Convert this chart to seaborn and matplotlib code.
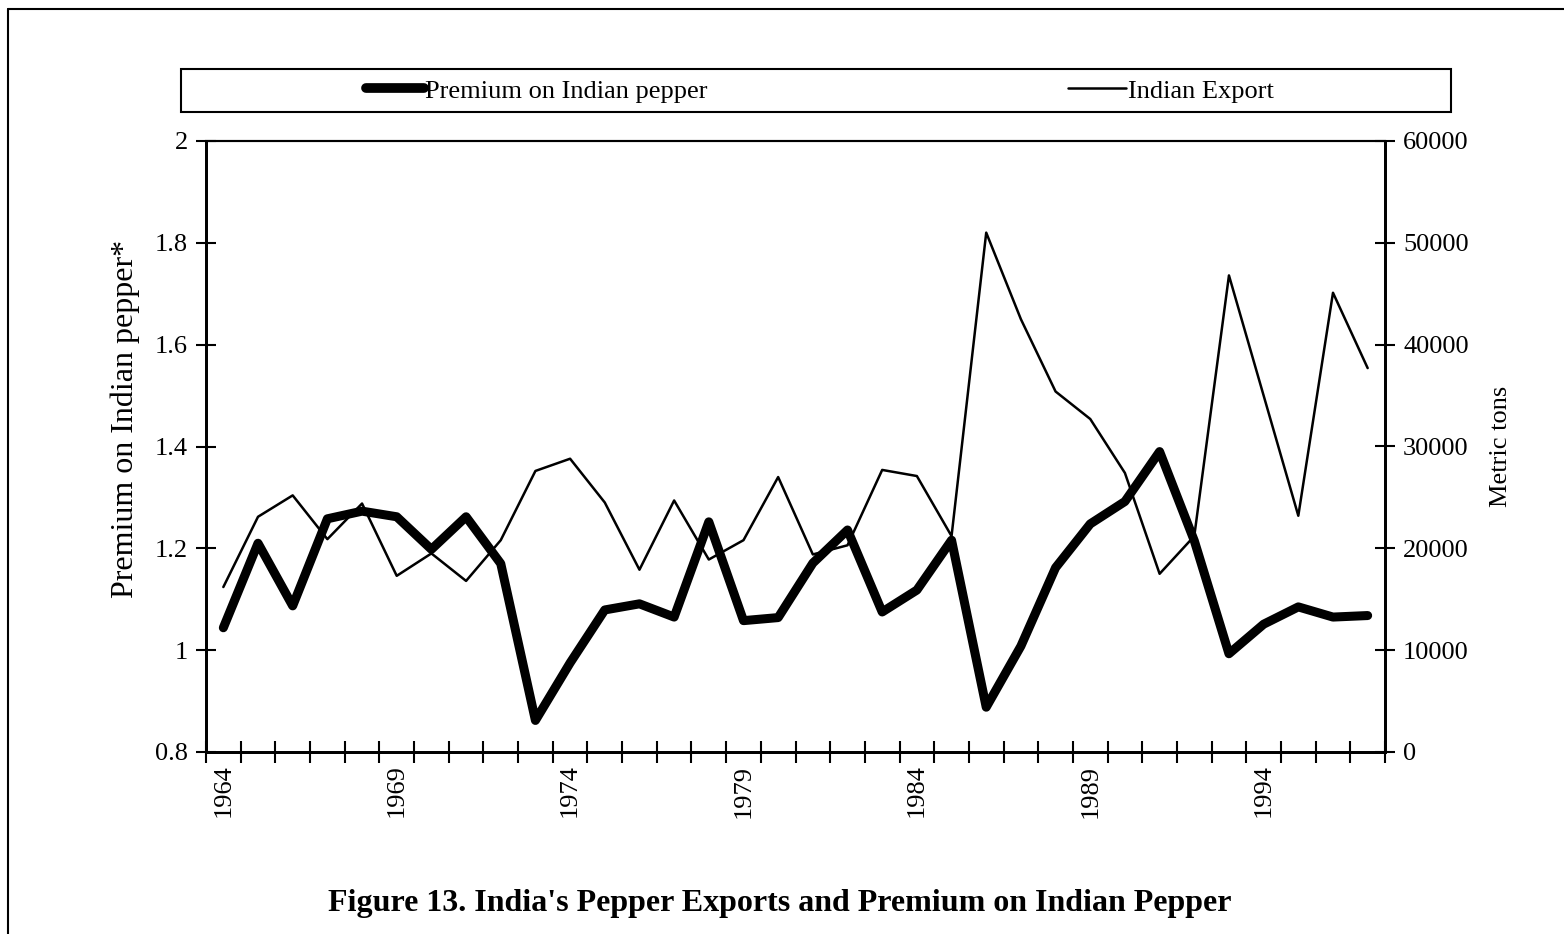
import numpy as np
import pandas as pd
import matplotlib
matplotlib.use('Agg')
import matplotlib.pyplot as plt
import seaborn as sns
from matplotlib.lines import Line2D
from matplotlib.patches import Rectangle
from matplotlib.ticker import FuncFormatter

# -----------------------

years = list(range(1964, 1998))

premium = [1.044, 1.21, 1.087, 1.258, 1.273, 1.262, 1.198, 1.262, 1.170, 0.862,
	0.975, 1.079, 1.091, 1.065, 1.252, 1.058, 1.064, 1.171, 1.236, 1.075,
	1.118, 1.216, 0.888, 1.008, 1.162, 1.248, 1.292, 1.39, 1.215, 0.993,
	1.051, 1.085, 1.065, 1.068]

exports = [16200, 23100, 25200, 20900, 24400, 17300, 19500, 16800, 20800, 27600,
	28800, 24500, 17900, 24700, 18900, 20800, 27000, 19400, 20300, 27700,
	27100, 21200, 51000, 42500, 35400, 32700, 27400, 17500, 21200, 46800,
	35000, 23200, 45100, 37700]

label_years = [1964, 1969, 1974, 1979, 1984, 1989, 1994]

# -----------------------

sns.set_style('white')
plt.rcParams['font.family'] = ['Liberation Serif', 'DejaVu Serif']
plt.rcParams['text.color'] = 'black'
plt.rcParams['axes.labelcolor'] = 'black'
plt.rcParams['xtick.color'] = 'black'
plt.rcParams['ytick.color'] = 'black'

W, H = 1564, 934
fig = plt.figure(figsize=(W / 100, H / 100), dpi=100)
ax = fig.add_axes([206 / W, 1 - 752 / H, (1385 - 206) / W, (752 - 141) / H])
ax2 = ax.twinx()

df = pd.DataFrame({'year': years, 'premium': premium, 'exports': exports})

sns.lineplot(data=df, x='year', y='premium', ax=ax, color='black',
	linewidth=6.5, solid_joinstyle='round', solid_capstyle='round')
sns.lineplot(data=df, x='year', y='exports', ax=ax2, color='black',
	linewidth=1.8)

ax.set_zorder(ax2.get_zorder() + 1)
ax.patch.set_visible(False)

ax.set_xlim(1963.5, 1997.5)
ax.set_ylim(0.8, 2.0)
ax2.set_ylim(0, 60000)

ax.set_xticks(label_years)
ax.set_xticklabels([str(y) for y in label_years], rotation=90, fontsize=19)
ax.set_xticks(np.arange(1963.5, 1998.5, 1.0), minor=True)
ax.tick_params(axis='x', which='major', length=0, pad=9)
ax.tick_params(axis='x', which='minor', direction='inout', length=16, width=1.5, bottom=True)

ax.set_yticks(np.arange(0.8, 2.01, 0.2))
ax.yaxis.set_major_formatter(FuncFormatter(lambda v, p: '%g' % round(v, 1)))
ax.tick_params(axis='y', direction='inout', length=14, width=1.5, labelsize=19, pad=6, left=True)

ax2.set_yticks(np.arange(0, 60001, 10000))
ax2.tick_params(axis='y', direction='inout', length=14, width=1.5, labelsize=19, pad=6, right=True)

ax.set_xlabel('')
ax.set_ylabel('Premium on Indian pepper*', fontsize=23)
ax.yaxis.set_label_coords(-0.056, 0.545)
ax2.set_ylabel('Metric tons', fontsize=19)
ax2.yaxis.set_label_coords(1.089, 0.5)

for a in (ax, ax2):
	for s in a.spines.values():
		s.set_color('black')
		s.set_linewidth(2)
	a.spines['top'].set_linewidth(1.5)
	a.grid(False)

# legend box spanning the top
fig.add_artist(Rectangle((181 / W, 1 - 112 / H), (1451 - 181) / W, (112 - 69) / H,
	transform=fig.transFigure, fill=False, edgecolor='black', lw=1.5))

h1 = Line2D([], [], color='black', lw=7)
h2 = Line2D([], [], color='black', lw=1.8)
fig.legend([h1], ['Premium on Indian pepper'], loc='center', frameon=False,
	bbox_to_anchor=(537 / W, 1 - 91 / H), fontsize=19, handlelength=2.2,
	handletextpad=0.05)
fig.legend([h2], ['Indian Export'], loc='center', frameon=False,
	bbox_to_anchor=(1171 / W, 1 - 91 / H), fontsize=19, handlelength=2.2,
	handletextpad=0.05)

# outer frame (left and top edges)
fig.add_artist(Line2D([8 / W, 8 / W], [0, 1 - 9 / H], transform=fig.transFigure,
	color='black', lw=1.5))
fig.add_artist(Line2D([8 / W, 1], [1 - 9 / H, 1 - 9 / H], transform=fig.transFigure,
	color='black', lw=1.5))

fig.text(780 / W, 1 - 903 / H,
	"Figure 13. India's Pepper Exports and Premium on Indian Pepper",
	ha='center', va='center', fontsize=23, fontweight='bold')

plt.savefig('out.png', dpi=100)
